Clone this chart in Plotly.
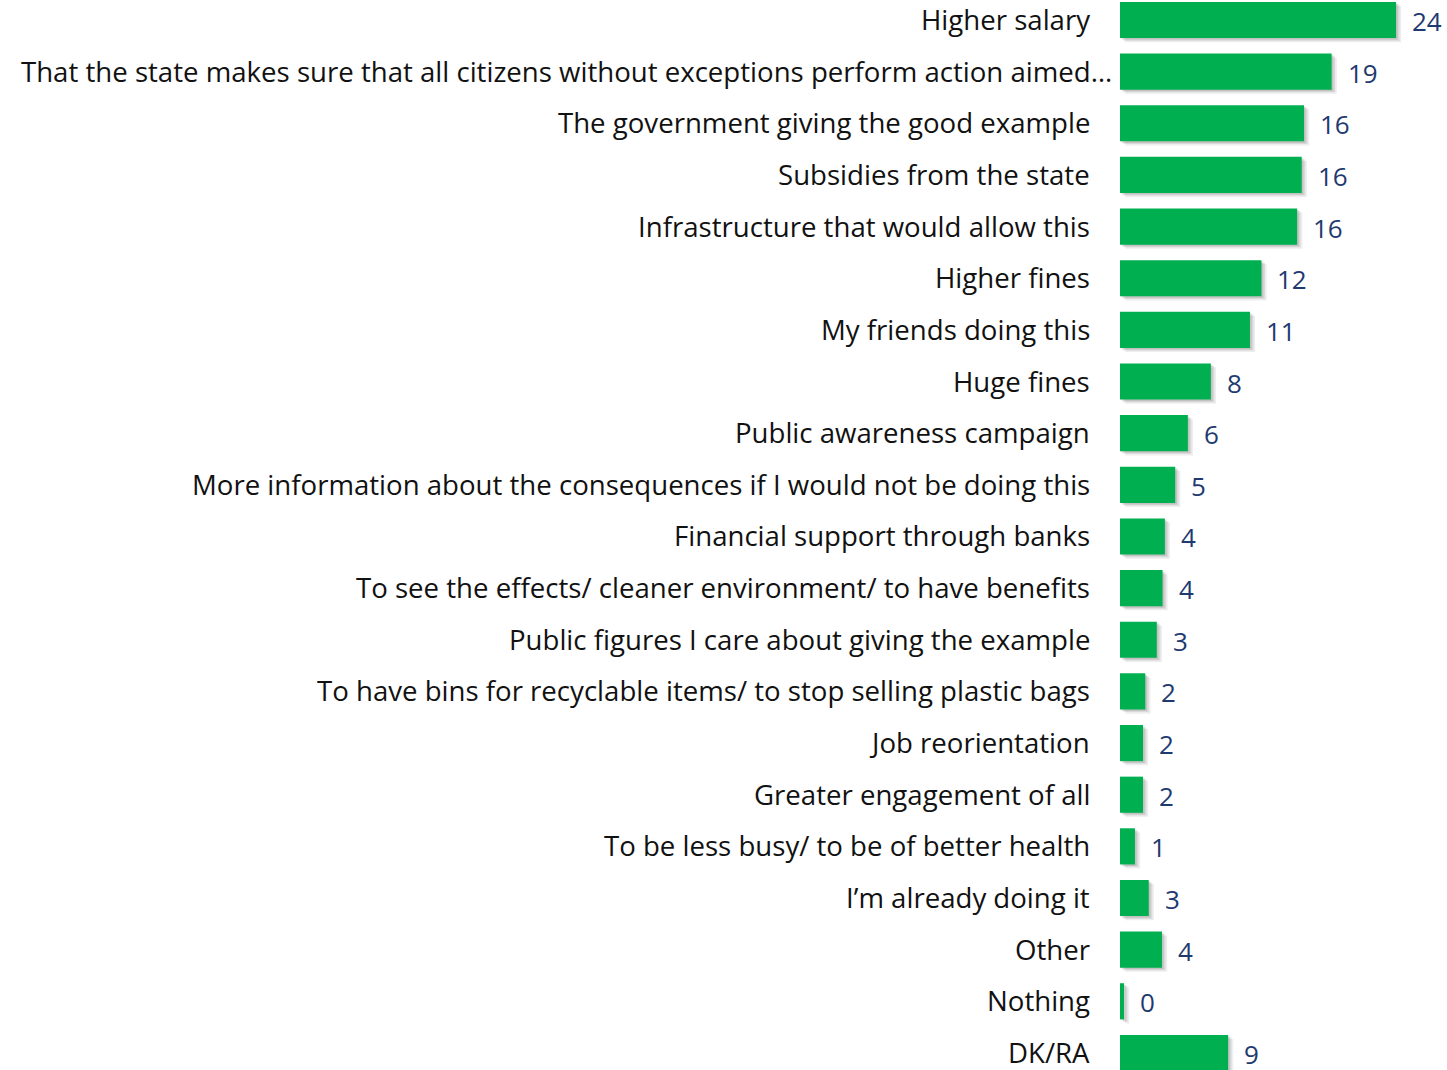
import plotly.graph_objects as go

categories = [
    "Higher salary",
    "That the state makes sure that all citizens without exceptions perform action aimed…",
    "The government giving the good example",
    "Subsidies from the state",
    "Infrastructure that would allow this",
    "Higher fines",
    "My friends doing this",
    "Huge fines",
    "Public awareness campaign",
    "More information about the consequences if I would not be doing this",
    "Financial support through banks",
    "To see the effects/ cleaner environment/ to have benefits",
    "Public figures I care about giving the example",
    "To have bins for recyclable items/ to stop selling plastic bags",
    "Job reorientation",
    "Greater engagement of all",
    "To be less busy/ to be of better health",
    "I’m already doing it",
    "Other",
    "Nothing",
    "DK/RA",
]
values = [24, 18.4, 16, 15.8, 15.4, 12.3, 11.3, 7.9, 5.9, 4.8, 3.9, 3.7, 3.2,
          2.2, 2.0, 2.0, 1.3, 2.5, 3.65, 0.35, 9.4]
value_labels = ["24", "19", "16", "16", "16", "12", "11", "8", "6", "5", "4", "4",
                "3", "2", "2", "2", "1", "3", "4", "0", "9"]

ypos = list(range(len(categories)))
GREEN = "#00B050"
NAVY = "#1F3A70"
FONT = "'Open Sans', 'Noto Sans', sans-serif"

fig = go.Figure()
# soft drop shadow layers
for shift, yoff, op in [(0.45, 0.08, 0.10), (0.3, 0.05, 0.14), (0.15, 0.03, 0.18)]:
    fig.add_trace(go.Bar(
        y=ypos, x=values, base=shift, orientation="h", width=0.7,
        offset=-0.35 + yoff, marker=dict(color="rgba(90,90,90,%s)" % op, line=dict(width=0)),
        hoverinfo="skip", showlegend=False,
    ))
fig.add_trace(go.Bar(
    y=ypos, x=values, orientation="h", width=0.7, offset=-0.35,
    marker=dict(color=GREEN, line=dict(width=0)), showlegend=False,
))

annotations = []
for i, (c, v, t) in enumerate(zip(categories, values, value_labels)):
    annotations.append(dict(
        x=v, y=i, xref="x", yref="y", text=t, showarrow=False,
        xanchor="left", yanchor="middle", xshift=14, yshift=-1,
        font=dict(family=FONT, size=26, color=NAVY),
    ))
    annotations.append(dict(
        x=0, y=i, xref="paper", yref="y", text=c, showarrow=False,
        xanchor="right", yanchor="middle", xshift=(-6 if i == 1 else -28), yshift=1,
        font=dict(family=FONT, size=27.6, color="#111111"),
    ))

fig.update_layout(
    width=1447, height=1070,
    margin=dict(l=1120, r=0, t=0, b=0),
    plot_bgcolor="white", paper_bgcolor="white",
    barmode="overlay",
    xaxis=dict(range=[0, 28.43], visible=False, fixedrange=True),
    yaxis=dict(range=[20.33, -0.387], showticklabels=False, showgrid=False,
               zeroline=False, showline=False, ticks="", fixedrange=True),
    annotations=annotations,
)

fig.write_html("out.html", config={"displayModeBar": False},
               post_script="document.body.style.margin='0';document.body.style.padding='0';")
